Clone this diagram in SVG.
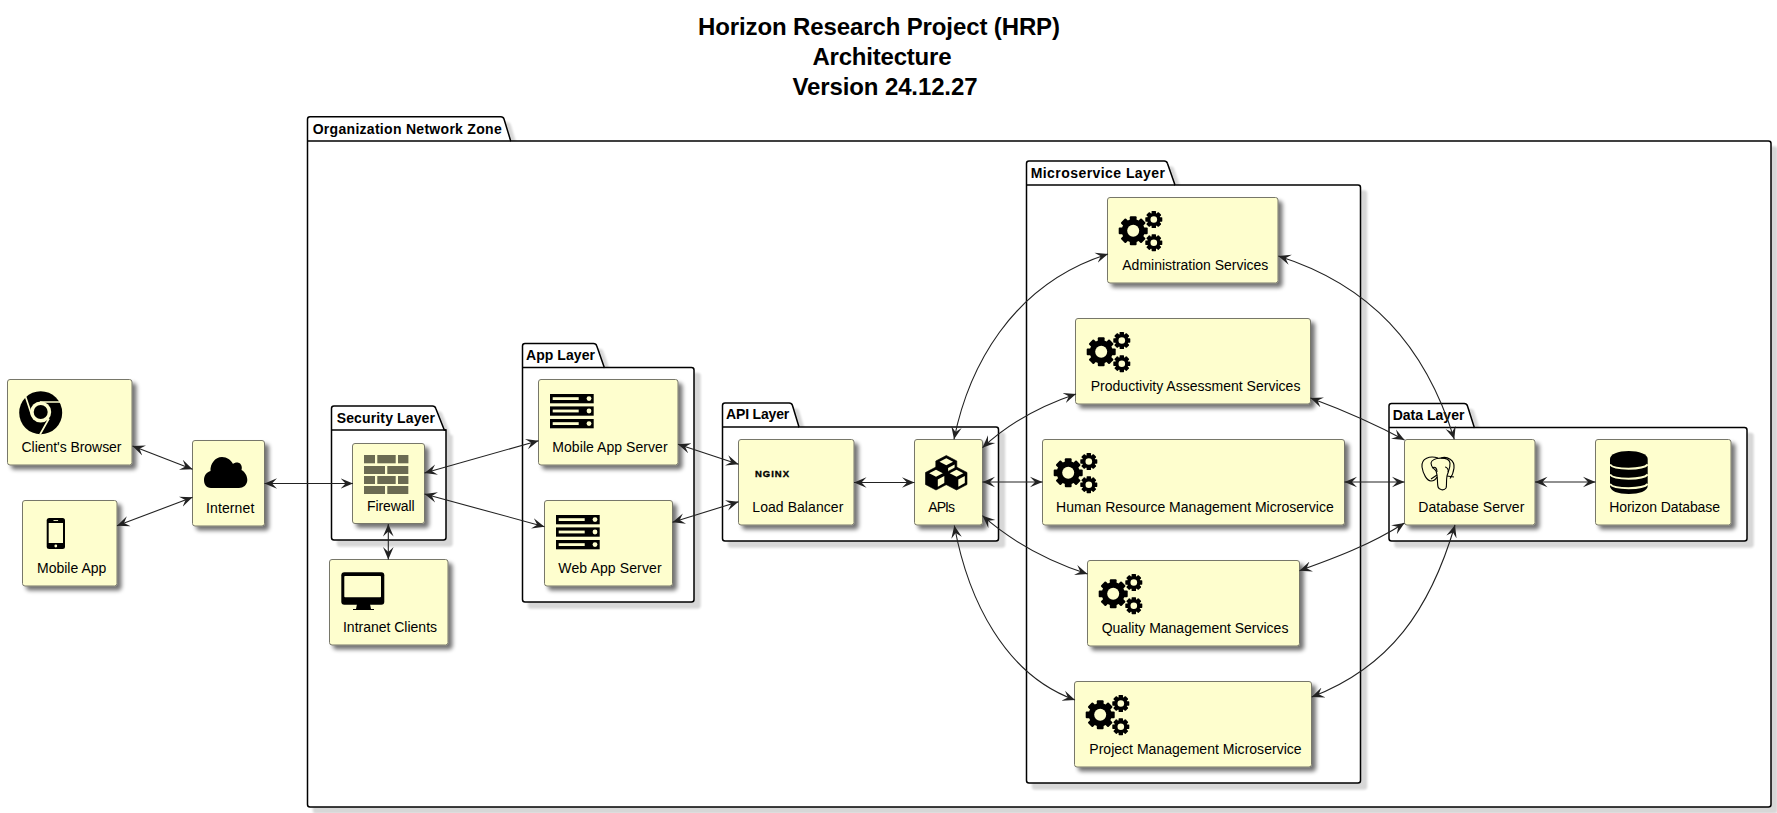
<svg xmlns="http://www.w3.org/2000/svg" width="1777" height="813" viewBox="0 0 1777 813">
<style>
text{font-family:"Liberation Sans",Arial,sans-serif;fill:#000}
.t{font-size:24px;font-weight:bold;text-anchor:middle}
.l{font-size:14px}
.p{font-size:14px;font-weight:bold}
.n{fill:#FEFECE;stroke:#77776A;stroke-width:1;filter:url(#ns)}
.pk{fill:#fff;stroke:#000;stroke-width:1.5;filter:url(#ps)}
.tb{fill:none;stroke:#000;stroke-width:1.5}
.c{fill:none;stroke:#222;stroke-width:1.1;marker-start:url(#a);marker-end:url(#a)}
.y{fill:#FEFECE}
.ys{fill:none;stroke:#FEFECE}
.b{fill:#000}
.bk{fill:#6b6b52}
.el{fill:none;stroke:#000;stroke-width:1.1}
</style>
<defs>
<filter id="ns" x="-20%" y="-20%" width="140%" height="140%"><feGaussianBlur in="SourceAlpha" stdDeviation="2"/><feOffset dx="4" dy="4"/><feComponentTransfer><feFuncA type="linear" slope=".55"/></feComponentTransfer><feMerge><feMergeNode/><feMergeNode in="SourceGraphic"/></feMerge></filter>
<filter id="ps" x="-10%" y="-10%" width="120%" height="120%"><feGaussianBlur in="SourceAlpha" stdDeviation="1"/><feOffset dx="6" dy="6"/><feComponentTransfer><feFuncA type="linear" slope=".16"/></feComponentTransfer><feMerge><feMergeNode/><feMergeNode in="SourceGraphic"/></feMerge></filter>
<marker id="a" markerUnits="userSpaceOnUse" markerWidth="16" markerHeight="12" refX="12.500" refY="6" orient="auto-start-reverse" viewBox="0 0 16 12"><path d="M12.500,6 L0,0.700 L5,6 L0,11.300 Z" fill="#222"/></marker>
<g id="bigGear"><circle r="11.500" class="b"/><g class="b"><rect x="-3.400" y="-14.500" width="6.800" height="29" rx="1"/><rect x="-3.400" y="-14.500" width="6.800" height="29" rx="1" transform="rotate(45)"/><rect x="-3.400" y="-14.500" width="6.800" height="29" rx="1" transform="rotate(90)"/><rect x="-3.400" y="-14.500" width="6.800" height="29" rx="1" transform="rotate(135)"/></g><circle r="6" class="y"/></g>
<g id="smGear"><circle r="6.600" class="b"/><g class="b"><rect x="-2.200" y="-8.500" width="4.400" height="17" rx=".6"/><rect x="-2.200" y="-8.500" width="4.400" height="17" rx=".6" transform="rotate(45)"/><rect x="-2.200" y="-8.500" width="4.400" height="17" rx=".6" transform="rotate(90)"/><rect x="-2.200" y="-8.500" width="4.400" height="17" rx=".6" transform="rotate(135)"/></g><circle r="3.300" class="y"/></g>
<g id="gears"><use href="#bigGear" x="25.700" y="33.300"/><use href="#smGear" x="46.300" y="22"/><use href="#smGear" x="46.300" y="45.200"/></g>
<g id="server"><g id="bar"><rect x="0" y="0" width="43.700" height="9.300" class="b"/><rect x="2.700" y="3.200" width="26" height="2.800" class="y"/><circle cx="39" cy="4.600" r="2.400" class="y"/></g><use href="#bar" y="12.400"/><use href="#bar" y="25"/></g>
<g id="cube"><path d="M0,-11.500 L10.500,-6 V6 L0,11.500 L-10.500,6 V-6 Z" class="b" stroke="#000" stroke-width=".6" stroke-linejoin="round"/><path d="M0,-8.700 L6.800,-5.200 L0,-1.800 L-6.800,-5.200 Z" class="y"/><path d="M1.800,1 L8.300,-2.500 V4.500 L1.800,8.200 Z" class="y"/></g>
</defs>
<rect width="1777" height="813" fill="#fff"/>
<g id="title">
<text class="t" x="879" y="35" textLength="362">Horizon Research Project (HRP)</text>
<text class="t" x="882" y="65" textLength="139">Architecture</text>
<text class="t" x="885" y="95" textLength="185">Version 24.12.27</text>
</g>

<g id="organization-network-zone">
<path class="pk" d="M310,116.700 H500.800 Q503.300,116.700 504,119 L510.700,141 H1768.500 Q1771,141 1771,143.500 V804.500 Q1771,807 1768.500,807 H310 Q307.500,807 307.500,804.500 V119.200 Q307.500,116.700 310,116.700 Z"/>
<path class="tb" d="M307.500,141 H510.700"/>
<text class="p" x="312.700" y="134" textLength="189">Organization Network Zone</text>
</g>
<g id="security-layer">
<path class="pk" d="M334,406 H432.500 Q435,406 435.700,408.200 L444.300,430 H446 V537.500 Q446,540 443.500,540 H334 Q331.500,540 331.500,537.500 V408.500 Q331.500,406 334,406 Z"/>
<path class="tb" d="M331.500,430 H446"/>
<text class="p" x="336.700" y="422.700" textLength="98.300">Security Layer</text>
</g>
<g id="app-layer">
<path class="pk" d="M525,343.500 H593.500 Q596,343.500 596.700,345.700 L604.300,367.500 H691.500 Q694,367.500 694,370 V599.500 Q694,602 691.500,602 H525 Q522.500,602 522.500,599.500 V346 Q522.500,343.500 525,343.500 Z"/>
<path class="tb" d="M522.500,367.500 H604.300"/>
<text class="p" x="526" y="360" textLength="69">App Layer</text>
</g>
<g id="api-layer">
<path class="pk" d="M725,403 H789.200 Q791.700,403 792.400,405.200 L799,427 H996 Q998.500,427 998.500,429.500 V538.500 Q998.500,541 996,541 H725 Q722.500,541 722.500,538.500 V405.500 Q722.500,403 725,403 Z"/>
<path class="tb" d="M722.500,427 H799"/>
<text class="p" x="726" y="419.300" textLength="63.300">API Layer</text>
</g>
<g id="microservice-layer">
<path class="pk" d="M1029,161 H1164.200 Q1166.700,161 1167.400,163.200 L1175,185 H1358 Q1360.500,185 1360.500,187.500 V780.500 Q1360.500,783 1358,783 H1029 Q1026.500,783 1026.500,780.500 V163.500 Q1026.500,161 1029,161 Z"/>
<path class="tb" d="M1026.500,185 H1175"/>
<text class="p" x="1030.700" y="178.300" textLength="134.300">Microservice Layer</text>
</g>
<g id="data-layer">
<path class="pk" d="M1391.500,403.500 H1464.200 Q1466.700,403.500 1467.400,405.700 L1474.300,427.500 H1744.500 Q1747,427.500 1747,430 V538.500 Q1747,541 1744.500,541 H1391.500 Q1389,541 1389,538.500 V406 Q1389,403.500 1391.500,403.500 Z"/>
<path class="tb" d="M1389,427.500 H1474.300"/>
<text class="p" x="1392.700" y="420" textLength="71.700">Data Layer</text>
</g>

<g id="clients-browser">
<rect class="n" x="7.500" y="379.500" width="124.500" height="85.500" rx="2.500"/>
<circle cx="40.700" cy="412.700" r="21.500" class="b"/>
<circle cx="40.700" cy="412" r="10.500" class="y"/>
<circle cx="40.700" cy="412" r="7" class="b"/>
<path class="ys" stroke-width="1.700" d="M40,402 L61.500,402 M25.500,396.500 L32,416 M49,418.500 L40,434.500"/>
<text class="l" x="21.500" y="452" textLength="100">Client's Browser</text>
</g>
<g id="mobile-app">
<rect class="n" x="22.500" y="500.500" width="94.500" height="85.500" rx="2.500"/>
<rect x="46.700" y="518" width="18.300" height="31" rx="2.500" class="b"/>
<rect x="48.700" y="523" width="14.300" height="20" class="y"/>
<circle cx="55.800" cy="546" r="1.400" class="y"/>
<rect x="53.500" y="520" width="4.600" height=".9" class="y"/>
<text class="l" x="37" y="573" textLength="69.300">Mobile App</text>
</g>
<g id="internet">
<rect class="n" x="192.500" y="440.500" width="72" height="85.500" rx="2.500"/>
<path class="b" d="M211,488 C206,488 204,484 204,480 C204,475 207,472 210.500,471 C210,464 215,457 222,457 C227,457 231,460 233,464 C235,462 239,462 240.500,464 C242,466 242,468 241.500,470 C245,472 247.300,476 247.300,480 C247.300,485 243,488 239,488 Z"/>
<text class="l" x="206" y="513" textLength="48.300">Internet</text>
</g>
<g id="firewall">
<rect class="n" x="352.500" y="443.500" width="72" height="80" rx="2.500"/>
<g class="bk">
<rect x="364" y="455" width="11" height="8.300"/><rect x="377.300" y="455" width="18.400" height="8.300"/><rect x="398" y="455" width="10.400" height="8.300"/>
<rect x="364" y="466" width="21" height="8"/><rect x="387.300" y="466" width="21" height="8"/>
<rect x="364" y="476" width="11" height="8"/><rect x="377.300" y="476" width="18.400" height="8"/><rect x="398" y="476" width="10.400" height="8"/>
<rect x="364" y="486" width="21" height="8"/><rect x="387.300" y="486" width="21" height="8"/>
</g>
<text class="l" x="367" y="511" textLength="47.700">Firewall</text>
</g>
<g id="intranet-clients">
<rect class="n" x="329.500" y="559.500" width="118.500" height="85.500" rx="2.500"/>
<rect x="341.300" y="572.300" width="43" height="32.500" rx="3" class="b"/>
<rect x="344.300" y="576" width="36.700" height="21.300" rx=".8" class="y"/>
<path class="b" d="M357,604 H370 L371,609 H374 V610 H353 V609 H356 Z"/>
<text class="l" x="343" y="632" textLength="94">Intranet Clients</text>
</g>
<g id="mobile-app-server">
<rect class="n" x="538.500" y="379.500" width="139.500" height="85.500" rx="2.500"/>
<use href="#server" x="550" y="394"/>
<text class="l" x="552.300" y="452" textLength="115.300">Mobile App Server</text>
</g>
<g id="web-app-server">
<rect class="n" x="544.500" y="500.500" width="128" height="85.500" rx="2.500"/>
<use href="#server" x="556" y="515"/>
<text class="l" x="558.300" y="573" textLength="103.300">Web App Server</text>
</g>
<g id="load-balancer">
<rect class="n" x="738.500" y="439.500" width="115.500" height="85.500" rx="2.500"/>
<text x="755" y="476.700" font-size="9.500" font-weight="bold" stroke="#000" stroke-width=".35" textLength="34">NGINX</text>
<text class="l" x="752.300" y="512" textLength="91">Load Balancer</text>
</g>
<g id="apis">
<rect class="n" x="914.500" y="439.500" width="68" height="85.500" rx="2.500"/>
<use href="#cube" x="946.300" y="467"/>
<use href="#cube" x="936" y="478.500"/>
<use href="#cube" x="956.500" y="478.500"/>
<text class="l" x="928.300" y="512" textLength="26.700">APIs</text>
</g>
<g id="administration-services">
<rect class="n" x="1107.500" y="197.500" width="170.500" height="85.500" rx="2.500"/>
<use href="#gears" x="1107.500" y="197.500"/>
<text class="l" x="1122.300" y="270" textLength="146">Administration Services</text>
</g>
<g id="productivity-assessment-services">
<rect class="n" x="1075.500" y="318.500" width="235" height="85.500" rx="2.500"/>
<use href="#gears" x="1075.500" y="318.500"/>
<text class="l" x="1090.700" y="391" textLength="209.700">Productivity Assessment Services</text>
</g>
<g id="human-resource-management-microservice">
<rect class="n" x="1042.500" y="439.500" width="302" height="85.500" rx="2.500"/>
<use href="#gears" x="1042.500" y="439.500"/>
<text class="l" x="1056" y="512" textLength="277.700">Human Resource Management Microservice</text>
</g>
<g id="quality-management-services">
<rect class="n" x="1087.500" y="560.500" width="212" height="85.500" rx="2.500"/>
<use href="#gears" x="1087.500" y="560.500"/>
<text class="l" x="1101.700" y="633" textLength="186.700">Quality Management Services</text>
</g>
<g id="project-management-microservice">
<rect class="n" x="1074.500" y="681.500" width="237" height="85.500" rx="2.500"/>
<use href="#gears" x="1074.500" y="681.500"/>
<text class="l" x="1089.300" y="754" textLength="212.300">Project Management Microservice</text>
</g>
<g id="database-server">
<rect class="n" x="1404.500" y="439.500" width="130.500" height="85.500" rx="2.500"/>
<g class="el">
<path d="M1438,458 C1430,455.500 1421,458 1422,467 C1423,474 1427,481 1431,481 C1434,481 1436,479 1437,477"/>
<path d="M1441,458 C1447,456 1455,460 1454,468 C1453.500,472 1452,476 1450,478.500"/>
<path d="M1431,463 C1432,457 1449,456 1450,463 C1450.500,468 1448,472 1447,476 C1446,481 1447,486 1446,488 C1444,491 1439,490 1438,487 C1437,482 1438,476 1436,471 C1434,468 1431,468 1431,463 Z"/>
<path d="M1432,468 C1435,466 1437,468 1437,472 M1431,479 L1437,475 M1447,476 L1454,477 M1445,467 C1447,467 1449,470 1448,472"/>
</g>
<text class="l" x="1418.300" y="512" textLength="106">Database Server</text>
</g>
<g id="horizon-database">
<rect class="n" x="1595.500" y="439.500" width="135.500" height="85.500" rx="2.500"/>
<path class="b" d="M1610,459 C1610,454 1618,451 1628.800,451 C1639,451 1647.700,454 1647.700,459 V486 C1647.700,491 1639,494 1628.800,494 C1618,494 1610,491 1610,486 Z"/>
<path class="ys" stroke-width="2" d="M1610,464.500 C1614,470 1643,470 1647.700,464.500 M1610,474.500 C1614,480 1643,480 1647.700,474.500 M1610,484 C1614,489.500 1643,489.500 1647.700,484"/>
<text class="l" x="1609.300" y="512" textLength="110.700">Horizon Database</text>
</g>

<g id="connectors">
<path class="c" d="M132.500,446 L192.500,469.300"/>
<path class="c" d="M117,525.700 L192.500,497.300"/>
<path class="c" d="M264.500,483.500 L353,483.500"/>
<path class="c" d="M388.300,524 L388.300,559.500"/>
<path class="c" d="M424.500,473 L538.500,440.700"/>
<path class="c" d="M424.500,494 L544.500,526.700"/>
<path class="c" d="M678,444.300 L738.500,464.300"/>
<path class="c" d="M672.500,522.300 L738.500,501.700"/>
<path class="c" d="M854,482.500 L914.500,482.500"/>
<path class="c" d="M954,439.300 C968,370 1010,285 1108,254"/>
<path class="c" d="M982.500,447.700 C1010,422 1040,406 1076,394"/>
<path class="c" d="M982.500,482 L1042.500,482"/>
<path class="c" d="M982.500,515.700 C1010,540 1045,560 1087.500,574"/>
<path class="c" d="M954.300,525.500 C968,600 1005,675 1075,700"/>
<path class="c" d="M1278.300,256 C1370,285 1425,345 1454.300,439.300"/>
<path class="c" d="M1310.500,398 C1340,409 1375,424 1404.500,440"/>
<path class="c" d="M1344.500,482 L1404.500,482"/>
<path class="c" d="M1299.500,570.700 C1335,558 1370,545 1404.500,523"/>
<path class="c" d="M1311.700,697 C1390,667 1430,610 1455,525"/>
<path class="c" d="M1535,482 L1595.500,482"/>
</g>
</svg>
